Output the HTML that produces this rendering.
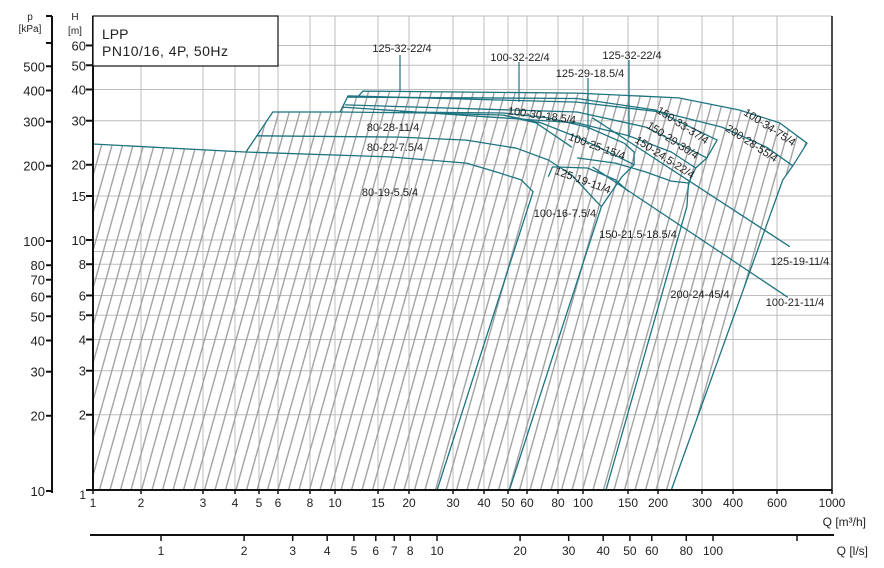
<!DOCTYPE html>
<html><head><meta charset="utf-8"><style>
html,body{margin:0;padding:0;background:#fff;}
svg{display:block;font-family:"Liberation Sans",sans-serif;}
</style></head><body>
<svg id="chart" width="884" height="568" viewBox="0 0 884 568" xmlns="http://www.w3.org/2000/svg">
<defs><clipPath id="plotclip"><rect x="93" y="16" width="739" height="474"/></clipPath></defs>
<g id="grid"></g>
<g id="hatch"></g>
<g id="curves"></g>
<g id="axes"></g>
<g id="labels"></g>
<g>
<rect x="93" y="16" width="185" height="50" fill="#fff" stroke="#111" stroke-width="1.2"/>
<text x="102" y="39" font-size="14" fill="#222">LPP</text>
<text x="102" y="56" font-size="14" fill="#222" letter-spacing="0.5">PN10/16, 4P, 50Hz</text>
</g>
</svg>
<script>
const NS="http://www.w3.org/2000/svg";
const xKnotQ=[1,2,3,4,5,6,8,10,15,20,30,40,50,60,80,100,150,200,300,400,600,1000];
const xKnotPx=[93,141,203,235,259,278,310,335,378,409,453,484,508,527,558,583,628,658,702,733,777,832];
function xs(q){const l=Math.log10(q);
 for(let i=0;i<xKnotQ.length-1;i++){const a=Math.log10(xKnotQ[i]),b=Math.log10(xKnotQ[i+1]);
  if(l<=b||i===xKnotQ.length-2){return xKnotPx[i]+(l-a)/(b-a)*(xKnotPx[i+1]-xKnotPx[i]);}}}
function ys(h){return 490-250*Math.log10(h);}
function ps(p){return 491-250*Math.log10(p/10);}
function ls(v){return 161+276*Math.log10(v);}

const qTicks=[1,2,3,4,5,6,8,10,15,20,30,40,50,60,80,100,150,200,300,400,600,1000];
const hTicks=[1,2,3,4,5,6,8,10,15,20,30,40,50,60];
const hGrid=[1,2,3,4,5,6,7,8,9,10,15,20,30,40,50,60];
const pTicks=[10,20,30,40,50,60,70,80,100,200,300,400,500];
const lsTicks=[1,2,3,4,5,6,7,8,10,20,30,40,50,60,80,100];

const c80_19=[[1,24.2],[4.39,22.5],[16.7,21.5],[34,20.3],[44.9,18.7],[56.8,17.4],[63.5,15.6],[25.9,1]];
const c80_28=[[4.43,22.5],[5.71,32.5],[10.48,32.5],[24.2,32.2],[48,31.6],[65.3,29.4],[82.5,25.1],[90.5,23.5]];
const c80_22=[[4.91,26.1],[18.4,25.8],[34,25.1],[54.2,23.3],[73.1,20.9],[90.5,18.2],[114,14.1],[118,13.6],[50.7,1]];
const c100_34=[[12.5,37.7],[13,39.4],[94.9,38.7],[242,37],[424,33.1],[615,29.4],[793,24.4],[695,19.8],[633,17.4],[226,1]];
const c200_28=[[10.48,32.5],[11.3,37.7],[94.9,35.6],[206,32.5],[361,28.3],[545,23.5],[695,19.8]];
const c150_33=[[11.3,37.3],[94.9,36.8],[195,33.1],[345,25.1],[314,21.3]];
const c150_29=[[11,34.7],[94.9,32.5],[178,28.3],[314,21.3],[283,19.4]];
const c150_245=[[10.7,34],[94.9,29.4],[151,26.1],[226,22.5],[283,19.4],[265,16.9],[261,13.6],[123,1]];
const c100_30=[[18.4,32.5],[48,32.2],[73.1,30.8],[104,28.3],[145,24.4],[159,22.5],[159,20]];
const c100_25=[[48,31.6],[68.4,29.4],[94.9,25.8],[126,22.5],[159,20],[142,17.9],[118,13.6]];
const c125_19=[[73.1,17.9],[76,19.6],[104,19.4],[134,17.4],[151,15.6]];
const c150_215=[[94.9,21.3],[134,20.3],[178,18.7],[226,17.2],[265,16.9]];
const c125_19b=[[109,30.8],[676,9.4]];
const c100_21=[[109,19.6],[663,5.9]];
const curveNames=["curve-80-19-5.5","curve-80-28-11","curve-80-22-7.5","curve-100-34-75","curve-200-28-55","curve-150-33-37","curve-150-29-30","curve-150-24.5-22","curve-100-30-18.5","curve-100-25-15","curve-125-19-11","curve-150-21.5-18.5","curve-125-19-11-line","curve-100-21-11"];
const curveData=[c80_19,c80_28,c80_22,c100_34,c200_28,c150_33,c150_29,c150_245,c100_30,c100_25,c125_19,c150_215,c125_19b,c100_21];
const envelope=[[1,1],[1,24.2],[4.39,22.5],[5.71,32.5],[10.48,32.5],[11.3,37.7],[12.5,37.7],[13,39.4],[94.9,38.7],[242,37],[424,33.1],[615,29.4],[793,24.4],[695,19.8],[633,17.4],[226,1]];

function mk(tag,attrs,parent){const e=document.createElementNS(NS,tag);for(const k in attrs)e.setAttribute(k,attrs[k]);parent.appendChild(e);return e;}
const grid=document.getElementById('grid'),hatch=document.getElementById('hatch'),curves=document.getElementById('curves'),axes=document.getElementById('axes'),labels=document.getElementById('labels');

hGrid.forEach(h=>{const l=mk('line',{x1:93,x2:832,y1:ys(h),y2:ys(h),stroke:'#bdbdbd','stroke-width':1},grid);

});
mk('line',{x1:93,x2:832,y1:16,y2:16,stroke:'#bdbdbd','stroke-width':1},grid);
qTicks.forEach(q=>{const l=mk('line',{x1:xs(q),x2:xs(q),y1:16,y2:490,stroke:'#bdbdbd','stroke-width':1},grid);

});

const cp=mk('clipPath',{id:'envclip'},document.querySelector('defs'));
mk('polygon',{points:envelope.map(d=>xs(d[0])+','+ys(d[1])).join(' ')},cp);
const hg=mk('g',{'clip-path':'url(#envclip)'},hatch);
for(let x0=-100;x0<840;x0+=10.5){mk('line',{x1:x0,y1:490,x2:x0+0.28*474,y2:16,stroke:'#a3a3a3','stroke-width':1.4},hg);}

curveData.forEach((c,i)=>{const p=mk('polyline',{points:c.map(d=>xs(d[0]).toFixed(1)+','+ys(d[1]).toFixed(1)).join(' '),fill:'none',stroke:'#1d7481','stroke-width':1.3,'stroke-linejoin':'round'},curves);

});

[[400,55,92],[519,62,102],[588,78,130],[629,60,138]].forEach(a=>{const l=mk('line',{x1:a[0],x2:a[0],y1:a[1],y2:a[2],stroke:'#1d7481','stroke-width':1.2},curves);

});

mk('line',{x1:93,x2:93,y1:16,y2:491,stroke:'#111','stroke-width':2},axes);
mk('line',{x1:92,x2:832,y1:490,y2:490,stroke:'#111','stroke-width':2},axes);
mk('line',{x1:832,x2:832,y1:16,y2:491,stroke:'#111','stroke-width':1.5},axes);
mk('line',{x1:52,x2:52,y1:16,y2:493,stroke:'#111','stroke-width':2},axes);
mk('line',{x1:90,x2:834,y1:535,y2:535,stroke:'#111','stroke-width':2},axes);
function txt(x,y,s,anchor,size,parent,name){const t=mk('text',{x:x,y:y,'font-size':size||12,'text-anchor':anchor||'middle',fill:'#222'},parent||axes);t.textContent=s;

return t;}
hTicks.forEach(h=>{mk('line',{x1:86,x2:93,y1:ys(h),y2:ys(h),stroke:'#111','stroke-width':2},axes);if(h>1)txt(86,ys(h)+5,String(h),'end',13);});
txt(86,499,'1','end',12);
txt(75,20,'H','middle',10,axes,'h-axis-title');txt(75,34,'[m]','middle',10,axes,'h-axis-unit');
[16,43].concat(pTicks.map(ps)).forEach(y=>mk('line',{x1:46,x2:52,y1:y,y2:y,stroke:'#111','stroke-width':2},axes));
pTicks.forEach(p=>txt(45,ps(p)+5,String(p),'end',13));
txt(30,20,'p','middle',10,axes,'p-axis-title');txt(30,32,'[kPa]','middle',10,axes,'p-axis-unit');
qTicks.forEach(q=>{mk('line',{x1:xs(q),x2:xs(q),y1:490,y2:494,stroke:'#111','stroke-width':1.5},axes);txt(xs(q),507,String(q),'middle',12);});
txt(866,526,'Q [m³/h]','end',12,axes,'q-axis-title');
lsTicks.forEach(v=>{mk('line',{x1:ls(v),x2:ls(v),y1:535,y2:541,stroke:'#111','stroke-width':1.5},axes);txt(ls(v),555,String(v),'middle',12);});
mk('line',{x1:797,x2:797,y1:535,y2:541,stroke:'#111','stroke-width':1.5},axes);
txt(868,555,'Q [l/s]','end',12,axes,'q-ls-axis-title');

const lab=[[402,52,'125-32-22/4',0],[520,61,'100-32-22/4',0],[632,59,'125-32-22/4',0],[590,77,'125-29-18.5/4',0],[542,119,'100-30-18.5/4',8],[393,131,'80-28-11/4',0],[395,151,'80-22-7.5/4',0],[390,196,'80-19-5.5/4',0],[597,150,'100-25-15/4',20],[683,129,'150-33-37/4',33],[673,144,'150-29-30/4',33],[665,161,'150-24.5-22/4',33],[770,131,'100-34-75/4',33],[752,147,'200-28-55/4',33],[583,184,'125-19-11/4',20],[565,217,'100-16-7.5/4',0],[638,238,'150-21.5-18.5/4',0],[800,265,'125-19-11/4',0],[795,306,'100-21-11/4',0],[700,298,'200-24-45/4',0]];
lab.forEach(a=>{const t=txt(a[0],a[1],a[2],'middle',11,labels,'curve-label');if(a[3])t.setAttribute('transform','rotate('+a[3]+' '+a[0]+' '+(a[1]-4)+')');});
</script>
</body></html>
